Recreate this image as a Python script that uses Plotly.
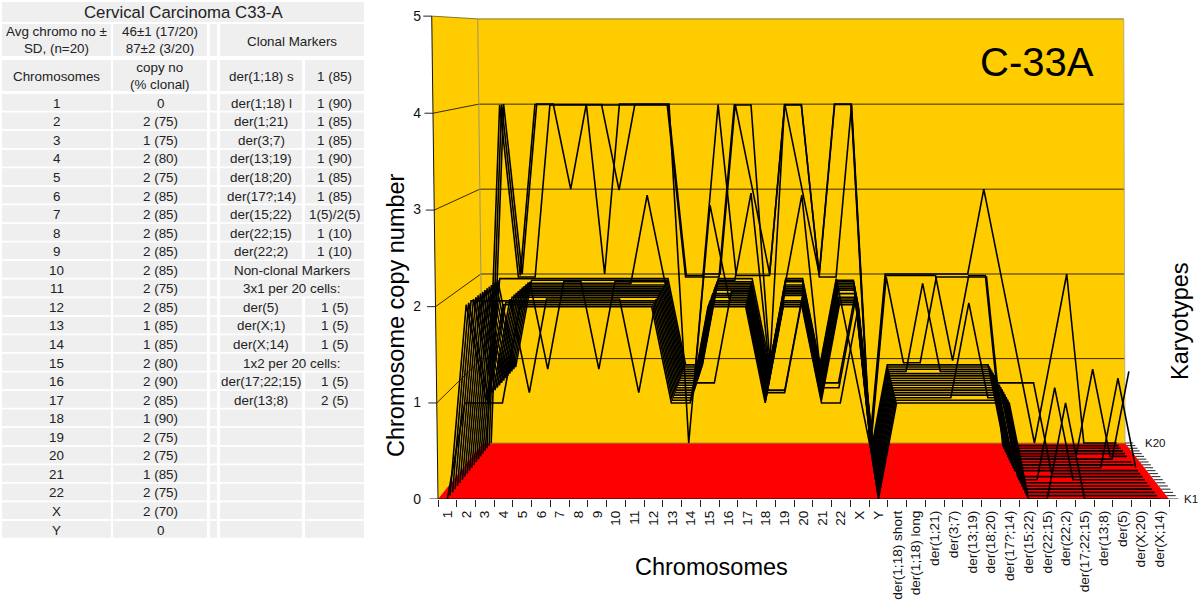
import plotly.graph_objects as go

# ---------- table data ----------
TABLE_TITLE = "Cervical Carcinoma C33-A"
chrom_names = ["1","2","3","4","5","6","7","8","9","10","11","12","13","14","15","16","17","18","19","20","21","22","X","Y"]
chrom_copy = ["0","2 (75)","1 (75)","2 (80)","2 (75)","2 (85)","2 (85)","2 (85)","2 (85)","2 (85)","2 (75)","2 (85)",
              "1 (85)","1 (85)","2 (80)","2 (90)","2 (85)","1 (90)","2 (75)","2 (75)","1 (85)","2 (75)","2 (70)","0"]
marker_names = ["der(1;18) l","der(1;21)","der(3;7)","der(13;19)","der(18;20)","der(17?;14)","der(15;22)","der(22;15)","der(22;2)",
                "Non-clonal Markers","3x1 per 20 cells:","der(5)","der(X;1)","der(X;14)","1x2 per 20 cells:","der(17;22;15)","der(13;8)"]
marker_vals = ["1 (90)","1 (85)","1 (85)","1 (90)","1 (85)","1 (85)","1(5)/2(5)","1 (10)","1 (10)",
               None,None,"1 (5)","1 (5)","1 (5)",None,"1 (5)","2 (5)"]

# ---------- chart data: copy number per karyotype (K1 front ... K20 back) ----------
categories = ["1","2","3","4","5","6","7","8","9","10","11","12","13","14","15","16","17","18","19","20","21","22","X","Y",
              "der(1;18) short","der(1;18) long","der(1;21)","der(3;7)","der(13;19)","der(18;20)","der(17?;14)","der(15;22)",
              "der(22;15)","der(22;2)","der(17;22;15)","der(13;8)","der(5)","der(X;20)","der(X;14)"]
K1  = [0,1,1,1,2,2,2,2,2,2,2,2,1,1,2,2,2,1,2,2,1,1,2,0, 1,1,1,1,1,1,1, 0,0,1,0,0,0,0,0]
K2  = [0,2,1,2,2,2,2,2,2,2,2,2,1,1,2,2,2,1,2,2,1,2,2,0, 1,1,1,1,1,1,1, 0,0,0,0,0,0,0,0]
K3  = [0,2,1,2,2,2,2,2,2,2,2,2,1,1,2,2,2,1,2,2,1,2,2,0, 1,1,1,1,2,1,1, 0,0,0,0,0,0,0,0]
K4  = [0,2,2,2,2,2,2,2,2,2,2,2,1,1,2,2,2,1,2,2,1,2,2,0, 1,1,1,1,1,1,1, 0,0,0,0,0,0,0,0]
K5  = [0,2,1,2,1,2,2,2,2,2,1,2,1,1,3,2,2,1,1,2,1,2,2,0, 1,1,1,1,1,1,1, 0,0,0,0,0,0,0,0]
K6  = [0,2,1,2,2,2,2,2,2,2,2,2,1,1,2,2,2,1,1,2,1,2,2,0, 1,1,1,1,1,1,1, 0,0,0,0,0,0,0,0]
K7  = [0,2,1,2,2,2,2,2,2,2,2,2,1,1,2,2,2,1,2,2,1,1,2,0, 1,1,1,1,1,1,1, 0,0,1,0,0,0,0,0]
K8  = [0,2,1,2,2,2,2,2,2,2,2,2,1,1,2,2,2,1,2,2,1,2,2,0, 1,1,1,1,1,1,1, 0,0,0,0,0,0,0,0]
K9  = [0,2,1,2,2,2,2,2,2,2,2,2,1,1,1,2,2,1,2,2,1,1,2,0, 1,1,1,1,1,1,1, 1,1,0,0,0,0,0,0]
K10 = [0,2,1,2,2,2,2,2,2,2,2,2,1,1,2,2,2,1,2,2,1,2,2,0, 1,1,1,1,1,1,1, 0,0,0,0,0,0,0,0]
K11 = [0,2,1,2,2,2,2,2,2,2,2,2,1,1,2,2,2,1,2,2,1,2,2,0, 1,1,1,1,1,1,1, 0,0,0,0,0,0,1,0]
K12 = [0,2,1,2,2,2,2,2,2,2,2,2,1,1,2,2,2,1,2,2,1,2,2,0, 1,1,1,1,1,1,1, 0,0,0,0,0,0,0,0]
K13 = [0,2,1,2,2,2,2,2,2,2,2,2,1,1,2,2,2,1,2,2,1,2,2,0, 1,1,1,1,1,1,1, 0,0,0,0,0,0,0,0]
K14 = [0,2,1,2,2,2,2,2,2,2,3,2,1,1,2,2,2,1,2,3,1,2,2,0, 1,1,2,1,1,1,1, 0,0,0,0,0,0,0,1]
K15 = [0,2,1,2,1,2,2,1,2,2,2,2,1,1,2,2,2,1,2,2,1,2,2,0, 1,1,1,1,1,1,1, 0,0,0,0,0,1,0,0]
K16 = [0,2,1,2,2,2,2,2,2,2,2,2,1,1,2,2,3,1,2,2,1,2,2,0, 1,1,1,1,1,1,1, 0,0,0,0,0,0,0,0]
K17 = [0,2,2,2,2,2,2,2,2,2,2,2,1,1,2,2,2,1,2,2,1,2,1,0, 1,1,1,1,1,1,1, 0,0,0,0,0,0,0,0]
K18 = [0,4,2,2,4,4,4,4,4,4,4,4,2,2,2,4,4,1,4,4,2,2,4,0, 2,1,1,2,2,2,2, 0,0,0,0,0,0,0,0]
K19 = [0,4,2,4,4,4,4,4,3,4,4,4,2,2,4,2,2,2,4,4,2,4,4,0, 2,2,2,2,1,2,2, 0,0,0,0,0,0,0,0]
K20 = [0,4,2,4,4,3,4,2,4,4,4,4,0,2,2,4,3,2,4,3,2,4,4,0, 2,2,2,2,2,2,3, 2,1,0,1,2,0,0,0]
karyotypes = [K1,K2,K3,K4,K5,K6,K7,K8,K9,K10,K11,K12,K13,K14,K15,K16,K17,K18,K19,K20]
copy_ticks = [0,1,2,3,4,5]

# ---------- perspective view of the box (chromosome slot u, copy number v, depth w) ----------
W, H = 1200, 601
X0, Y0, DX, DY = 438.0, 499.0, 731.0/39, 96.6
A, B = 0.1386, -0.0014
NC = len(categories)

def project(u, v, w):
    d = 1 + A*w + B*v
    px = (X0 + DX*u + 111.9*w - 1.86*v)/d
    py = (Y0 + 5.4*w - DY*v)/d
    return (px - X0)/DX + 0.5, (Y0 - py)/DY

def path(points):
    xs, ys = [], []
    for p in points:
        if p is None:
            xs.append(None); ys.append(None)
        else:
            x, y = project(*p); xs.append(x); ys.append(y)
    return xs, ys

fig = go.Figure()

def poly(points, color):
    x, y = path(points + [points[0]])
    fig.add_trace(go.Scatter(x=x, y=y, mode="lines", fill="toself", fillcolor=color,
                             line=dict(width=0), hoverinfo="skip", showlegend=False))

def stroke(points, color, width=1.0):
    x, y = path(points)
    fig.add_trace(go.Scatter(x=x, y=y, mode="lines", line=dict(color=color, width=width),
                             hoverinfo="skip", showlegend=False))

YEL, RED = "#FFCC00", "#FF0000"
poly([(0,0,1),(NC,0,1),(NC,5,1),(0,5,1)], YEL)
poly([(0,0,0),(0,0,1),(0,5,1),(0,5,0)], YEL)
poly([(0,0,0),(NC,0,0),(NC,0,1),(0,0,1)], RED)

# wall grid
grid = []
for v in copy_ticks[1:5]:
    grid += [(0,v,0),(0,v,1),(NC,v,1),None]
stroke(grid, "rgba(20,15,0,0.85)", 1.0)
stroke([(0,0,1),(0,5,1)], "#9a9364", 1.0)
stroke([(NC,0,1),(NC,5,1)], "#b8ae7a", 1.0)
stroke([(0,5,0),(0,5,1),(NC,5,1)], "#85762a", 1.0)
stroke([(0,0,1),(NC,0,1)], "#b09030", 1.0)
stroke([(0,0,0),(0,5,0)], "#111111", 1.0)
stroke([(0,0,0),(NC,0,0)], "#111111", 1.0)

# ticks of copy number and karyotype edges
yt = []
for v in copy_ticks:
    yt += [(-0.45,v,0),(0,v,0),None]
stroke(yt, "#222222", 1.0)
kt = []
for k in range(20):
    w = k/19
    kt += [(NC,0,w),(NC+0.5,0,w),None]
stroke(kt, "#222222", 1.0)

# one polyline per karyotype
for k, row in enumerate(karyotypes):
    w = k/19
    x, y = path([(i+0.5, row[i], w) for i in range(NC)])
    fig.add_trace(go.Scatter(x=x, y=y, mode="lines", name=f"K{k+1}",
                             line=dict(color="#000000", width=1.6), showlegend=False))

ann = []
def txt(x, y, s, size, color="#111111", angle=0, xa="center"):
    ann.append(dict(x=x/W, y=1-y/H, xref="paper", yref="paper", text=s, showarrow=False, textangle=angle,
                    xanchor=xa, yanchor="middle", align="center", font=dict(size=size, color=color)))

# table
shapes = []
def cell(x0, x1, y0, y1):
    shapes.append(dict(type="rect", xref="paper", yref="paper", x0=x0/W, x1=x1/W, y0=1-y1/H, y1=1-y0/H,
                       fillcolor="#EFEFF0", line=dict(width=0), layer="below"))
C = [(2,111),(113,207),(210,217),(220,302),(305,364)]
TC = "#222222"
FS = 13.4
cell(2,364,2,22); txt(183,12.5,TABLE_TITLE,16.8,TC)
cell(*C[0],24,56); cell(*C[1],24,56); cell(*C[2],24,56); cell(220,364,24,56)
txt(56.5,40,"Avg chromo no ±<br>SD, (n=20)",FS,TC); txt(160,40,"46±1 (17/20)<br>87±2 (3/20)",FS,TC); txt(292,41.5,"Clonal Markers",FS,TC)
for c in C:
    cell(*c,60,91)
txt(56.5,76,"Chromosomes",FS,TC); txt(160,76,"copy no<br>(% clonal)",FS,TC); txt(261,76.5,"der(1;18) s",FS,TC); txt(334.5,76.5,"1 (85)",FS,TC)
for r, (nm, cp) in enumerate(zip(chrom_names, chrom_copy)):
    y0 = 94 + r*18.56; y1 = y0 + 16.8; ym = (y0+y1)/2 + 0.8
    cell(*C[0],y0,y1); cell(*C[1],y0,y1); cell(*C[2],y0,y1)
    txt(56.5,ym,nm,FS,TC); txt(160,ym,cp,FS,TC)
    mn = marker_names[r] if r < len(marker_names) else ""
    mv = marker_vals[r] if r < len(marker_vals) else ""
    if mv is None:
        cell(220,364,y0,y1); txt(292,ym,mn,FS,TC)
    else:
        cell(*C[3],y0,y1); cell(*C[4],y0,y1)
        if mn:
            txt(261,ym,mn,FS,TC); txt(334.5,ym,mv,FS,TC)

# chart titles
txt(1037,62,"C-33A",40,"#000000")
txt(396,315,"Chromosome copy number",23.5,"#000000",-90)
txt(711,567,"Chromosomes",23.5,"#000000")
txt(1180,321,"Karyotypes",23.5,"#000000",-90)

# karyotype end labels
for k, name, gap in ((0,"K1",0.7),(19,"K20",1.1)):
    x, y = project(NC+gap, 0, k/19)
    ann.append(dict(x=x, y=y, xref="x", yref="y", text=name, showarrow=False, xanchor="left", yanchor="middle",
                    font=dict(size=11.5, color="#111111")))

LEFT = 422.0
fig.update_layout(
    width=W, height=H, margin=dict(l=0, r=0, t=0, b=0), autosize=False,
    paper_bgcolor="white", plot_bgcolor="white", showlegend=False,
    font=dict(family="Liberation Sans, Arial, sans-serif", color="#111111"),
    shapes=shapes, annotations=ann,
    xaxis=dict(domain=[LEFT/W, 1], range=[(LEFT-X0)/DX+0.5, (W-X0)/DX+0.5], automargin=False,
               showgrid=False, zeroline=False, showline=False,
               tickmode="array", tickvals=list(range(1, NC+1)), ticktext=categories, ticks="", tickangle=-90,
               tickfont=dict(size=13.6, color="#111111"), ticklabelstandoff=8,
               minor=dict(tickmode="array", tickvals=[i+0.5 for i in range(0, NC+1)], ticks="outside", ticklen=7,
                          tickwidth=1, tickcolor="#222222", showgrid=False)),
    yaxis=dict(domain=[(H-Y0)/H, 1], range=[0, Y0/DY], automargin=False, showgrid=False, zeroline=False, showline=False,
               tickmode="array", tickvals=copy_ticks, ticks="", tickfont=dict(size=14, color="#111111")),
)
fig.write_html("out.html", config={"displayModeBar": False},
               post_script="document.body.style.margin='0';document.body.style.overflow='hidden';")
